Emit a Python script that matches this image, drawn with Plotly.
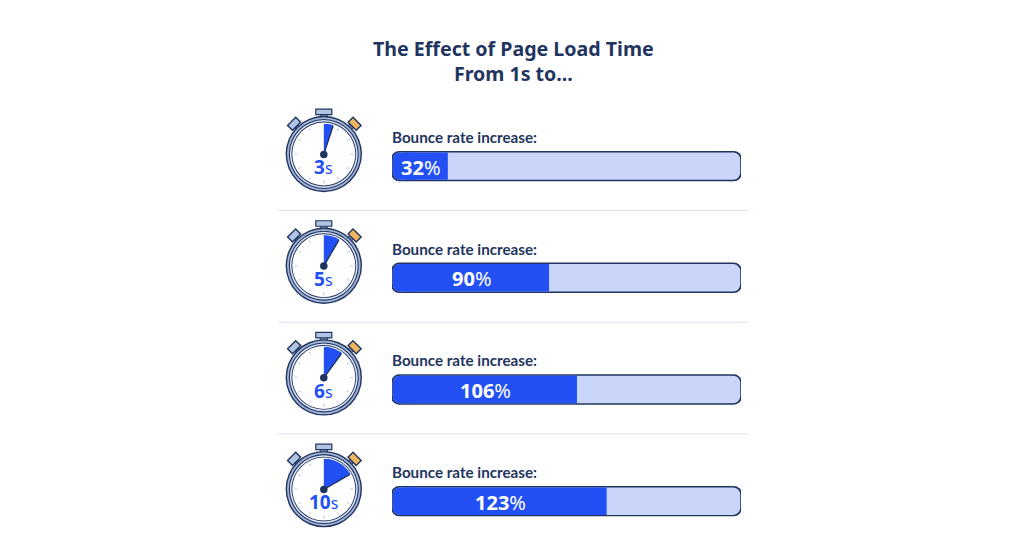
import math
import plotly.graph_objects as go

# ---- data ----
title_lines = ["The Effect of Page Load Time", "From 1s to..."]
seconds = [3, 5, 6, 10]
bounce_increase = [32, 90, 106, 123]
bar_label = "Bounce rate increase:"
scale_max = 200

W, H = 1024, 557
NAVY = "#1f3560"
BLUE = "#2250f5"
LIGHT = "#c9d6fa"
STEEL = "#8ea2c9"
PALE = "#b4c3e4"
ORANGE = "#efb55f"
RULE = "#d9e1f8"
FONT = "Noto Sans"
LFONT = "Lato"

ROW = 111.7
cats = [f"{s}s" for s in seconds]
EDGE = 0.45
CAP = 8

def px(x): return x / W
def py(y): return 1 - y / H

fig = go.Figure()

def bar(base, length, width, color, radius=None):
    marker = dict(color=color, line=dict(width=0))
    if radius:
        marker["cornerradius"] = radius
    fig.add_bar(y=cats, x=length, base=base, orientation="h", width=width, marker=marker,
                hoverinfo="skip", cliponaxis=False)

bar([-EDGE] * 4, [scale_max + 2 * EDGE] * 4, 0.272, NAVY, 8)
bar([EDGE] * 4, [scale_max - 2 * EDGE] * 4, 0.246, LIGHT, 7)
bar([EDGE] * 4, [2 * CAP] * 4, 0.246, BLUE, 7)
bar([CAP] * 4, [v - CAP for v in bounce_increase], 0.246, BLUE)

shapes = []
annotations = []

for c, v in zip(cats, bounce_increase):
    annotations.append(dict(x=v / 2, y=c, xref="x", yref="y", showarrow=False, yshift=-1, xshift=1,
                            xanchor="center", yanchor="middle", text=f"<b>{v}</b>%",
                            font=dict(family=FONT, size=20, color="white")))

def rect_path(cx, cy, w, h, deg):
    a = math.radians(deg)
    pts = []
    for dx, dy in [(-w/2, -h/2), (w/2, -h/2), (w/2, h/2), (-w/2, h/2)]:
        pts.append((cx + dx*math.cos(a) - dy*math.sin(a), cy + dx*math.sin(a) + dy*math.cos(a)))
    return "M" + " L".join(f"{px(x):.5f},{py(y):.5f}" for x, y in pts) + " Z"

def circle(cx, cy, r, fill):
    shapes.append(dict(type="circle", xref="paper", yref="paper", layer="below",
                       x0=px(cx-r), x1=px(cx+r), y0=py(cy+r), y1=py(cy-r),
                       fillcolor=fill, line=dict(width=0)))

def poly(path, fill, lw=1.4):
    shapes.append(dict(type="path", path=path, xref="paper", yref="paper", layer="below",
                       fillcolor=fill, line=dict(color=NAVY, width=lw)))

def note(x, y, text, font, xanchor="center"):
    annotations.append(dict(x=px(x), y=py(y), xref="paper", yref="paper", showarrow=False,
                            xanchor=xanchor, yanchor="middle", text=text, font=font))

FACE = 31.5
for i, s in enumerate(seconds):
    cx, cy = 323.8, 154.0 + ROW * i
    # crown and side buttons
    poly(rect_path(cx, cy - 38.5, 7, 8, 0), STEEL, 1.0)
    poly(rect_path(cx, cy - 42.2, 16, 5.5, 0), PALE, 1.2)
    poly(rect_path(cx - 26.5, cy - 27, 5, 6, -45), STEEL, 1.0)
    poly(rect_path(cx + 26.5, cy - 27, 5, 6, 45), STEEL, 1.0)
    poly(rect_path(cx - 29.7, cy - 30.2, 11.5, 7, -45), PALE, 1.4)
    poly(rect_path(cx + 30.8, cy - 30.2, 11.5, 7, 45), ORANGE, 1.4)
    # rings
    circle(cx, cy, 38.2, NAVY)
    circle(cx, cy, 36.8, "#a3b4d6")
    circle(cx, cy, 35.0, NAVY)
    circle(cx, cy, 33.9, "#dfe6f7")
    circle(cx, cy, 32.4, NAVY)
    circle(cx, cy, FACE, "white")
    # minute ticks
    for k in range(1, 12):
        a = math.radians(k * 30)
        r0, r1 = 26.5, 29.5
        shapes.append(dict(type="line", xref="paper", yref="paper", layer="below",
                           x0=px(cx + r0*math.sin(a)), x1=px(cx + r1*math.sin(a)),
                           y0=py(cy - r0*math.cos(a)), y1=py(cy - r1*math.cos(a)),
                           line=dict(color="#b9c6e2", width=1)))
    # wedge on its own polar scale
    pname = "polar" if i == 0 else f"polar{i+1}"
    R = 31
    fig.update_layout(**{pname: dict(
        domain=dict(x=[px(cx-R), px(cx+R)], y=[py(cy+R+0.4), py(cy-R+0.4)]),
        bgcolor="rgba(0,0,0,0)",
        radialaxis=dict(visible=False, range=[0, 1]),
        angularaxis=dict(visible=False, rotation=90, direction="clockwise"),
    )})
    fig.add_barpolar(r=[1], theta=[s * 3], width=[s * 6], subplot=pname,
                     marker=dict(color=BLUE, line=dict(width=0)), hoverinfo="skip")
    fig.add_scatterpolar(r=[0, 0.97], theta=[s * 6, s * 6], mode="lines", subplot=pname,
                         line=dict(color=NAVY, width=1.4), hoverinfo="skip")
    fig.add_scatterpolar(r=[0], theta=[0], mode="markers", subplot=pname,
                         marker=dict(color=NAVY, size=7.5), hoverinfo="skip")
    note(cx, cy + 13.2, f"<b>{s}</b><span style='font-size:16px'>s</span>",
         dict(family=FONT, size=19, color=BLUE))
    note(389.8, 136.8 + ROW * i, f"<b>{bar_label}</b>",
         dict(family=LFONT, size=15.2, color=NAVY), xanchor="left")
    if i < len(seconds) - 1:
        ry = 210.5 + ROW * i
        shapes.append(dict(type="line", xref="paper", yref="paper", layer="below",
                           x0=px(278), x1=px(748), y0=py(ry), y1=py(ry),
                           line=dict(color=RULE, width=1)))

note(513, 61, "<br>".join(f"<b>{line}</b>" for line in title_lines),
     dict(family=FONT, size=19.6, color=NAVY))

fig.update_layout(
    width=W, height=H, margin=dict(l=0, r=0, t=0, b=0, autoexpand=False),
    paper_bgcolor="white", plot_bgcolor="rgba(0,0,0,0)",
    barmode="overlay", showlegend=False,
    shapes=shapes, annotations=annotations,
    xaxis=dict(domain=[px(392), px(741)], range=[0, scale_max], visible=False, fixedrange=True),
    yaxis=dict(domain=[0, py(110.3)], type="category", categoryorder="array", categoryarray=cats,
               range=[3.5, -0.5], visible=False, fixedrange=True),
)
fig.write_html("out.html", config=dict(displayModeBar=False),
               post_script="document.body.style.margin='0';document.body.style.overflow='hidden';")
